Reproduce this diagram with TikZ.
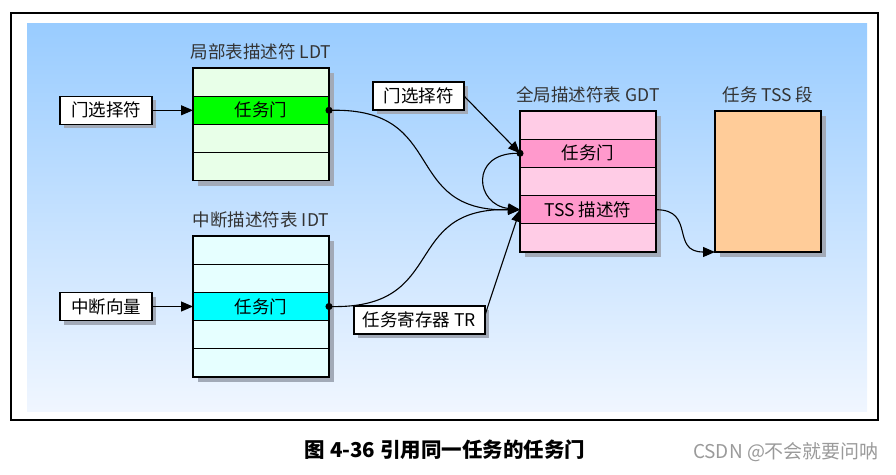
\documentclass[tikz,border=0pt]{standalone}
\usepackage{fontspec}
\setmainfont{Noto Sans CJK SC}
\usepackage{xcolor}
\usepackage{tikz}
\usetikzlibrary{arrows.meta, positioning, shadows, calc}
\definecolor{bgtop}{HTML}{99CCFF}
\definecolor{bgbot}{HTML}{F0F6FF}
\definecolor{shadowgray}{HTML}{A2AAB8}
\definecolor{ldtfill}{HTML}{E8FFE8}
\definecolor{idtfill}{HTML}{E6FFFF}
\definecolor{gatefill}{HTML}{00FF00}
\definecolor{intfill}{HTML}{00FFFF}
\definecolor{gdtlight}{HTML}{FFCCE6}
\definecolor{gdtdark}{HTML}{FF99CC}
\definecolor{tssfill}{HTML}{FFCC99}
\definecolor{labelgray}{HTML}{333333}
\definecolor{wmgray}{HTML}{9A9A9A}

\begin{document}
\begin{tikzpicture}[
    x=1pt, y=-1pt,
    txt/.style={font=\fontsize{17.5}{21}\selectfont},
    cell/.style={rectangle, draw=black, line width=1.3pt, outer sep=0pt, inner sep=0pt,
                 minimum width=136pt, minimum height=28.2pt, txt,
                 general shadow={fill=shadowgray, shadow xshift=5pt, shadow yshift=-5pt}},
    selbox/.style={rectangle, draw=black, line width=1.3pt, fill=white, outer sep=0pt,
                   minimum height=28pt, inner sep=0pt, txt,
                   general shadow={fill=shadowgray, shadow xshift=4pt, shadow yshift=-4pt}},
    lbl/.style={txt, inner sep=0pt, text=labelgray},
    arr/.style={-{Triangle[length=12pt, width=10pt]}, line width=1.1pt},
    dotarr/.style={{Circle[length=7pt]}-{Triangle[length=12pt, width=10pt]},
                   line width=1.1pt, shorten <=-3.5pt}
]
\useasboundingbox (0,0) rectangle (896,474);

\fill[top color=bgtop, bottom color=bgbot] (27,23) rectangle (867,411);
\draw[line width=2.5pt] (11,13) rectangle (878,420);

\node[cell, fill=ldtfill] (ldt1) at (261,82.1) {};
\node[cell, fill=gatefill, below=0pt of ldt1] (ldt2) {任务门};
\node[cell, fill=ldtfill, below=0pt of ldt2] (ldt3) {};
\node[cell, fill=ldtfill, below=0pt of ldt3] (ldt4) {};
\node[lbl, above=8pt of ldt1] (ldtlbl) {局部表描述符 LDT};

\node[cell, fill=idtfill] (idt1) at (261,250.1) {};
\node[cell, fill=idtfill, below=0pt of idt1] (idt2) {};
\node[cell, fill=intfill, below=0pt of idt2] (idt3) {任务门};
\node[cell, fill=idtfill, below=0pt of idt3] (idt4) {};
\node[cell, fill=idtfill, below=0pt of idt4] (idt5) {};
\node[lbl, above=8pt of idt1] (idtlbl) {中断描述符表 IDT};

\node[cell, fill=gdtlight] (gdt1) at (588,125.1) {};
\node[cell, fill=gdtdark, below=0pt of gdt1] (gdt2) {任务门};
\node[cell, fill=gdtlight, below=0pt of gdt2] (gdt3) {};
\node[cell, fill=gdtdark, below=0pt of gdt3] (gdt4) {TSS 描述符};
\node[cell, fill=gdtlight, below=0pt of gdt4] (gdt5) {};
\node[lbl, above=8pt of gdt1] (gdtlbl) {全局描述符表 GDT};

\node[cell, fill=tssfill, minimum width=106pt, minimum height=141pt] (tss) at (768,181.5) {};
\node[lbl, above=8pt of tss] (tsslbl) {任务 TSS 段};

\node[selbox, minimum width=92pt, left=41pt of ldt2] (ldtsel) {门选择符};
\node[selbox, minimum width=92pt, left=41pt of idt3] (vec) {中断向量};
\node[selbox, minimum width=91pt] (gdtsel) at (418.5,96) {门选择符};
\node[selbox, minimum width=131pt] (tr) at (419.5,320) {任务寄存器 TR};

\draw[arr] (ldtsel) -- (ldt2);
\draw[arr] (vec) -- (idt3);
\draw[dotarr] (ldt2.east) .. controls +(120,-2) and +(-120,2) .. (gdt4.west);
\draw[dotarr] (idt3.east) .. controls +(120,2) and +(-120,-2) .. (gdt4.west);
\draw[arr] (gdtsel.east) -- (gdt2.west);
\draw[dotarr] (gdt2.west) .. controls +(-50,0) and +(-45,-5) .. (gdt4.west);
\draw[arr] ($(tr.east)+(0,-5)$) -- (gdt4.west);
\draw[arr] (gdt4.east) .. controls +(40,0) and +(-45,0) .. (tss.south west);

\node[font=\bfseries\fontsize{20.5}{24}\selectfont] (cap) at (445,450) {图 4-36 引用同一任务的任务门};
\node[text=wmgray, font=\fontsize{19}{22}\selectfont] (wm) at (786,452) {CSDN @不会就要问呐};

\end{tikzpicture}
\end{document}
